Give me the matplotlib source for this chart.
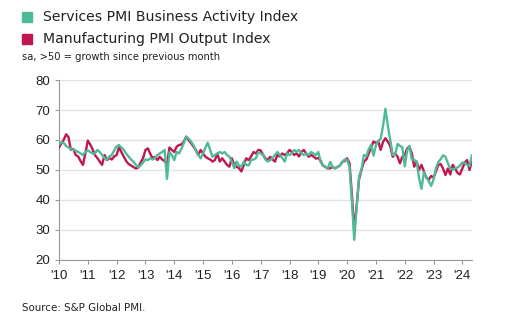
import matplotlib
matplotlib.use("Agg")
import matplotlib.pyplot as plt
import pandas as pd

# monthly data, Jan 2010 - May 2024
services = [
    58.5, 59.3, 59.0, 58.0, 57.5, 57.0, 56.7, 56.5, 56.0, 55.5, 55.0, 56.0,
    56.5, 56.0, 55.5, 55.5, 56.7, 56.0, 55.0, 54.0, 53.5, 54.5, 55.0, 56.5,
    57.9, 58.3, 57.5, 56.7, 55.5, 54.5, 53.5, 52.8, 51.7, 51.0, 51.5, 52.5,
    53.5, 53.3, 53.9, 53.5, 54.0, 55.0, 55.5, 56.0, 56.7, 47.0, 56.0, 55.0,
    53.3, 56.0, 55.5, 57.0, 58.9, 61.1, 60.5, 59.5, 58.3, 56.5, 55.0, 53.9,
    55.5, 57.5, 59.1, 56.7, 54.4, 55.0, 55.5, 56.0, 55.5, 56.0, 55.0, 54.4,
    52.8, 50.6, 52.8, 51.5, 51.1, 52.8, 51.7, 51.5, 53.3, 53.5, 53.9, 56.0,
    55.5, 55.0, 53.5, 52.8, 53.3, 54.0, 55.0, 56.0, 55.0, 54.0, 52.8, 55.5,
    55.0, 55.5, 56.7, 56.0, 56.7, 55.5, 55.0, 55.5, 55.0, 56.0, 55.5, 55.0,
    56.0, 52.5, 51.7, 51.0, 50.5, 52.7, 51.0, 50.5, 51.0, 51.5, 52.7, 53.5,
    53.4, 51.0, 39.8, 26.7, 37.5, 47.9, 50.0, 55.0, 54.6, 56.9, 58.4, 54.8,
    58.3, 59.8, 60.4, 64.7, 70.4, 64.6, 59.9, 55.1, 54.9, 58.7, 58.0, 57.6,
    51.2, 56.5, 58.0, 53.5, 53.4, 52.7, 47.3, 43.7, 49.3, 47.8, 46.2, 44.7,
    46.8, 50.6, 52.6, 53.6, 54.9, 54.4, 52.3, 50.5, 50.1, 50.6, 50.8, 51.4,
    52.5, 52.3, 51.7, 51.3, 54.8,
]
manufacturing = [
    57.5, 58.9, 60.0, 61.9, 61.0, 56.7, 57.0, 55.0, 54.5, 53.0, 51.7, 55.5,
    59.8, 58.5, 57.0, 55.0, 54.0, 52.8, 51.7, 55.0, 53.3, 54.0, 53.5, 54.5,
    55.0, 57.6, 56.0, 54.5, 53.0, 52.0, 51.5, 51.0, 50.5, 50.8, 52.5, 53.9,
    56.7, 57.2, 55.5, 53.9, 54.4, 53.3, 54.4, 53.5, 53.0, 51.7, 57.5, 56.7,
    56.0, 57.8, 58.3, 58.5, 59.4, 61.1, 60.0, 59.0, 57.8, 56.7, 55.0, 56.7,
    55.5, 54.4, 53.9, 53.5, 52.8, 53.3, 55.5, 52.8, 53.9, 52.8, 51.7, 51.1,
    53.9, 51.7, 51.1, 50.6, 49.5, 51.7, 53.9, 53.3, 54.5, 56.0, 55.5, 56.7,
    56.5, 55.0, 53.9, 53.3, 54.4, 53.5, 52.8, 55.0, 54.5, 55.5, 55.0, 55.5,
    56.7, 56.0, 55.0, 55.5, 54.5, 56.0, 56.7, 55.5, 54.4, 55.0, 54.5, 53.8,
    54.0, 53.0, 51.5, 51.0, 50.5, 50.6, 51.0, 50.6, 51.0, 51.5, 52.7, 53.0,
    53.9, 52.2, 42.0, 30.0, 38.0, 47.0, 50.0, 52.8, 53.5, 55.5, 57.5, 59.5,
    59.0, 59.4, 56.7, 59.4, 60.6, 59.4, 58.0, 54.4, 55.5, 54.5, 52.2, 54.4,
    55.0, 57.2, 57.8, 55.5, 51.1, 52.8, 50.0, 51.7, 49.5, 47.5, 46.7, 48.0,
    47.5, 49.5, 51.7, 52.0, 50.5, 48.3, 50.5, 48.5, 51.7, 50.5, 49.0, 48.5,
    50.5, 52.5, 53.3, 50.0, 53.0,
]
years = list(range(2010, 2025))
year_labels = ["'" + str(y)[2:] for y in years]

dates = pd.date_range("2010-01-01", periods=len(services), freq="MS")

green = "#4fba99"
red = "#c0174f"

fig = plt.figure(figsize=(5.06, 3.32), dpi=100)
ax = fig.add_axes([0.1166, 0.217, 0.816, 0.542])

ax.plot(dates, manufacturing, color=red, lw=1.7, zorder=3)
ax.plot(dates, services, color=green, lw=1.7, zorder=4)

ax.set_ylim(20, 80)
ax.set_yticks(range(20, 81, 10))
ax.set_xlim(dates[0], dates[-1])
ax.set_xticks([pd.Timestamp(f"{y}-01-01") for y in years])
ax.set_xticklabels(year_labels)
ax.grid(axis="y", color="#e3e3e3", lw=1)
ax.set_axisbelow(True)
for s in ["top", "right"]:
    ax.spines[s].set_visible(False)
for s in ["left", "bottom"]:
    ax.spines[s].set_color("#9a9a9a")
    ax.spines[s].set_linewidth(0.8)
ax.tick_params(axis="both", colors="#9a9a9a", length=3, width=0.8,
               labelsize=9.5, labelcolor="#222222")
ax.tick_params(axis="x", pad=4)
for lab in ax.get_xticklabels() + ax.get_yticklabels():
    lab.set_fontfamily("Liberation Sans")

# legend / header
fig.patches.append(plt.Rectangle((22 / 506, 1 - 22 / 332), 10 / 506, 10 / 332,
                                 transform=fig.transFigure, color=green))
fig.patches.append(plt.Rectangle((22 / 506, 1 - 44 / 332), 10 / 506, 10 / 332,
                                 transform=fig.transFigure, color=red))
fig.text(43 / 506, 1 - 17 / 332, "Services PMI Business Activity Index",
         fontsize=10.1, va="center", color="#222222")
fig.text(43 / 506, 1 - 39 / 332, "Manufacturing PMI Output Index",
         fontsize=10.1, va="center", color="#222222")
fig.text(22 / 506, 1 - 57 / 332, "sa, >50 = growth since previous month",
         fontsize=7.2, va="center", color="#222222")
fig.text(22 / 506, 1 - 308 / 332, "Source: S&P Global PMI.",
         fontsize=7.4, va="center", color="#222222")

fig.savefig("out.png", dpi=100)
